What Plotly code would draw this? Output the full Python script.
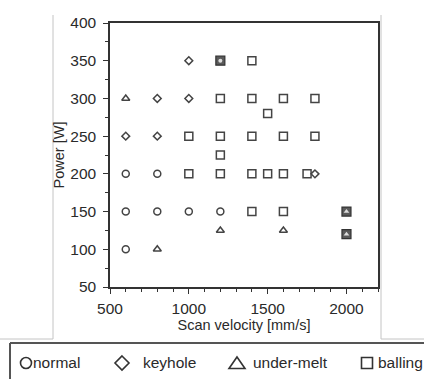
import plotly.graph_objects as go

# Process window: scan velocity [mm/s] vs. laser power [W], by melt-pool regime
normal_v = [600, 800, 600, 800, 1000, 1200, 600]
normal_p = [200, 200, 150, 150, 150, 150, 100]

keyhole_v = [1000, 800, 1000, 600, 800, 1800]
keyhole_p = [350, 300, 300, 250, 250, 200]

undermelt_v = [600, 800, 1200, 1600]
undermelt_p = [300, 100, 125, 125]

balling_v = [1400, 1200, 1400, 1600, 1800, 1500, 1000, 1200, 1400, 1600, 1800,
             1200, 1000, 1200, 1400, 1500, 1600, 1750, 1400, 1600]
balling_p = [350, 300, 300, 300, 300, 280, 250, 250, 250, 250, 250,
             225, 200, 200, 200, 200, 200, 200, 150, 150]

# points where two regimes coincide (balling + normal / balling + under-melt)
mixed_circle_v = [1200]
mixed_circle_p = [350]
mixed_tri_v = [2000, 2000]
mixed_tri_p = [150, 120]

legend_labels = ["normal", "keyhole", "under-melt", "balling"]
x_ticks = [500, 1000, 1500, 2000]
y_ticks = [50, 100, 150, 200, 250, 300, 350, 400]

FONT = "Liberation Sans, Arial, sans-serif"
INK = "#444444"

# plot-area geometry in pixels
FW, FH = 424, 379
L, R, T, B = 110, 378, 23, 287
W, H = R - L, B - T


def px(x):
    return (x - L) / W


def py(y):
    return (B - y) / H


def open_marker(symbol, size):
    return dict(symbol=symbol, size=size, color="rgba(0,0,0,0)",
                line=dict(color=INK, width=1.5))


fig = go.Figure()
fig.add_trace(go.Scatter(x=normal_v, y=normal_p, mode="markers", name="normal",
                         marker=open_marker("circle", 7)))
fig.add_trace(go.Scatter(x=keyhole_v, y=keyhole_p, mode="markers", name="keyhole",
                         marker=open_marker("diamond", 6)))
fig.add_trace(go.Scatter(x=undermelt_v, y=undermelt_p, mode="markers", name="under-melt",
                         marker=open_marker("triangle-up", 7)))
fig.add_trace(go.Scatter(x=balling_v, y=balling_p, mode="markers", name="balling",
                         marker=open_marker("square", 8)))

mixed_v = mixed_circle_v + mixed_tri_v
mixed_p = mixed_circle_p + mixed_tri_p
fig.add_trace(go.Scatter(x=mixed_v, y=mixed_p, mode="markers", showlegend=False,
                         marker=dict(symbol="square", size=9, color="#5a5a5a",
                                     line=dict(color="#333333", width=1.2))))
fig.add_trace(go.Scatter(x=mixed_circle_v, y=mixed_circle_p, mode="markers", showlegend=False,
                         marker=dict(symbol="circle", size=4, color="#dddddd",
                                     line=dict(width=0))))
fig.add_trace(go.Scatter(x=mixed_tri_v, y=mixed_tri_p, mode="markers", showlegend=False,
                         marker=dict(symbol="triangle-up", size=5, color="#dddddd",
                                     line=dict(width=0))))

axis_common = dict(
    showgrid=False, zeroline=False, showline=True, linecolor="#333333", linewidth=1.5,
    mirror=True, ticks="outside", ticklen=5, tickwidth=1.2, tickcolor="#333333",
    tickfont=dict(family=FONT, size=15.5, color="#2a2a2a"),
)

fig.update_xaxes(range=[500, 2200], tickvals=x_ticks, ticklabelstandoff=2, **axis_common,
                 minor=dict(dtick=100, ticks="outside", ticklen=3, tickcolor="#333333", tickwidth=1),
                 title=dict(text="Scan velocity [mm/s]", standoff=3,
                            font=dict(family=FONT, size=14.5, color="#2a2a2a")))
fig.update_yaxes(range=[50, 400], tickvals=y_ticks, ticklabelstandoff=4, **axis_common,
                 minor=dict(dtick=25, ticks="outside", ticklen=3, tickcolor="#333333", tickwidth=1),
                 title=dict(text="Power [W]", standoff=2,
                            font=dict(family=FONT, size=14.5, color="#2a2a2a")))

shapes = []
frame = dict(color="#c4c4c4", width=1)
# outer panel frame
shapes.append(dict(type="line", xref="paper", yref="paper", x0=px(53), x1=px(53),
                   y0=py(15), y1=py(339), line=frame))
shapes.append(dict(type="line", xref="paper", yref="paper", x0=px(0), x1=px(53),
                   y0=py(339), y1=py(339), line=frame))
shapes.append(dict(type="line", xref="paper", yref="paper", x0=px(381), x1=px(381),
                   y0=py(15), y1=py(339), line=frame))
shapes.append(dict(type="line", xref="paper", yref="paper", x0=px(381), x1=px(424),
                   y0=py(339), y1=py(339), line=frame))
# legend box
box = dict(color="#555555", width=2)
shapes.append(dict(type="line", xref="paper", yref="paper", x0=px(10), x1=px(425),
                   y0=py(343), y1=py(343), line=box))
shapes.append(dict(type="line", xref="paper", yref="paper", x0=px(10), x1=px(10),
                   y0=py(343), y1=py(380), line=box))

# legend symbols
sym = dict(color="#333333", width=1.6)
cy = 363
shapes.append(dict(type="circle", xref="paper", yref="paper",
                   x0=px(20.5), x1=px(31.5), y0=py(cy - 5.5), y1=py(cy + 5.5), line=sym))
cx = 122
shapes.append(dict(type="path", xref="paper", yref="paper", line=sym,
                   path=f"M {px(cx)} {py(cy - 7)} L {px(cx + 7)} {py(cy)} L {px(cx)} {py(cy + 7)} "
                        f"L {px(cx - 7)} {py(cy)} Z"))
cx = 237
shapes.append(dict(type="path", xref="paper", yref="paper", line=sym,
                   path=f"M {px(cx)} {py(cy - 6)} L {px(cx + 8)} {py(cy + 5.5)} "
                        f"L {px(cx - 8)} {py(cy + 5.5)} Z"))
shapes.append(dict(type="rect", xref="paper", yref="paper",
                   x0=px(361.5), x1=px(372.5), y0=py(cy - 5.5), y1=py(cy + 5.5), line=sym))

annotations = []
for label, xs in zip(legend_labels, [31, 141, 251, 376]):
    annotations.append(dict(text=label, xref="paper", yref="paper", x=px(xs), y=py(cy - 0.5),
                            xanchor="left", yanchor="middle", showarrow=False,
                            font=dict(family=FONT, size=15.5, color="#2a2a2a")))

fig.update_layout(
    width=FW, height=FH,
    margin=dict(l=L, r=FW - R, t=T, b=FH - B),
    paper_bgcolor="white", plot_bgcolor="white",
    showlegend=False, shapes=shapes, annotations=annotations,
)

fig.write_html("out.html")
